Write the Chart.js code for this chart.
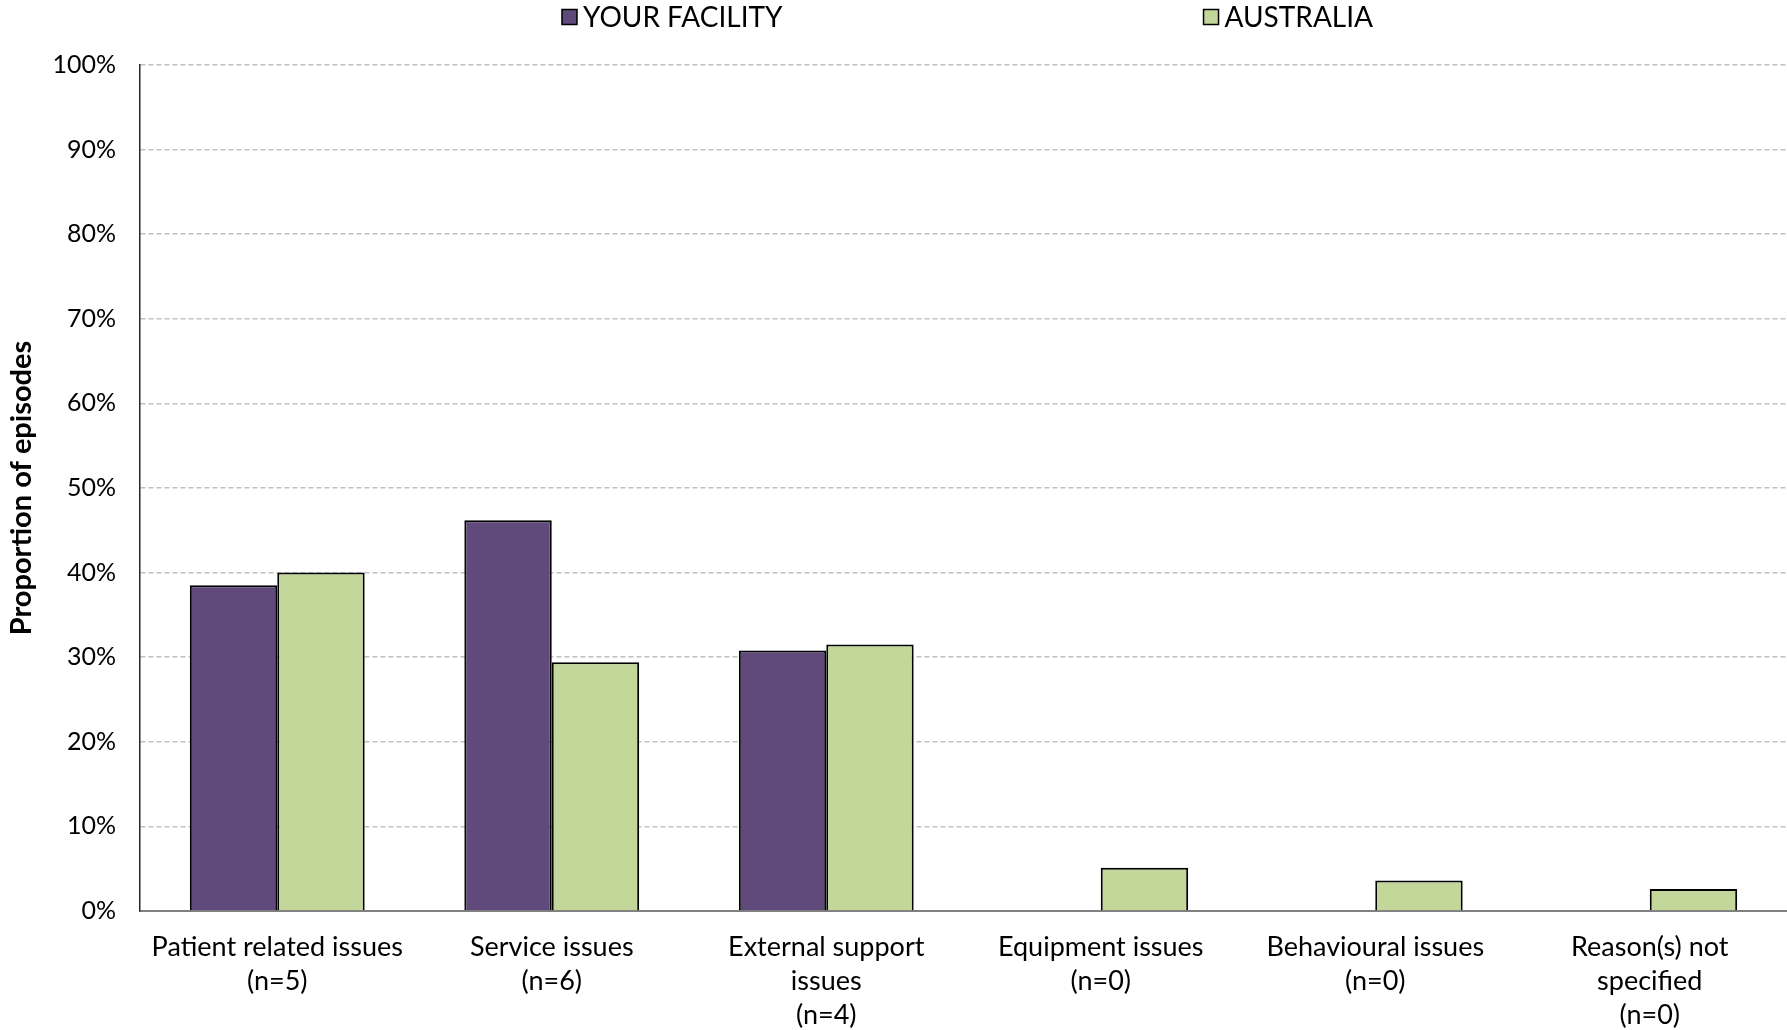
<!DOCTYPE html>
<html>
<head>
<meta charset="utf-8">
<script src="https://cdn.jsdelivr.net/npm/chart.js@4"></script>
<style>
  html, body { margin: 0; padding: 0; background: #fff; }
  #wrap { width: 1787px; height: 1030px; }
</style>
</head>
<body>
<div id="wrap"><canvas id="barChart" width="1787" height="1030"></canvas></div>
<script>
// Categories (multi-line x labels)
var categories = [
  ['Patient related issues', '(n=5)'],
  ['Service issues', '(n=6)'],
  ['External support', 'issues', '(n=4)'],
  ['Equipment issues', '(n=0)'],
  ['Behavioural issues', '(n=0)'],
  ['Reason(s) not', 'specified', '(n=0)']
];
var seriesNames = ['YOUR FACILITY', 'AUSTRALIA'];
// Proportion of episodes (%)
var facilityValues = [38.5, 46.2, 30.8, 0, 0, 0];
var australiaValues = [40.0, 29.4, 31.5, 5.1, 3.6, 2.6];
var yTicks = [0, 10, 20, 30, 40, 50, 60, 70, 80, 90, 100];

var FONT = 'Lato, "Noto Sans", sans-serif';

// Draws the legend centred over the plot area
var topLegend = {
  id: 'topLegend',
  afterDraw: function (chart) {
    let ctx = chart.ctx;
    let area = chart.chartArea;
    let box = 15, gap = 6, between = 421;
    ctx.save();
    ctx.font = '28px ' + FONT;
    let w0 = ctx.measureText(chart.data.datasets[0].label).width;
    let w1 = ctx.measureText(chart.data.datasets[1].label).width;
    let total = box + gap + w0 + between + box + gap + w1;
    let x = (area.left + area.right) / 2 + 4 - total / 2;
    let y = 17;
    chart.data.datasets.forEach(function (ds, i) {
      ctx.fillStyle = ds.backgroundColor;
      ctx.fillRect(x, y - box / 2, box, box);
      ctx.lineWidth = 1.5;
      ctx.strokeStyle = '#000';
      ctx.strokeRect(x, y - box / 2, box, box);
      ctx.fillStyle = '#000';
      ctx.textBaseline = 'middle';
      ctx.textAlign = 'left';
      ctx.fillText(ds.label, x + box + gap, y + 1);
      x += box + gap + (i === 0 ? w0 : w1) + between;
    });
    ctx.restore();
  }
};

var barCanvas = document.getElementById('barChart');
var chart = new Chart(barCanvas, {
  type: 'bar',
  data: {
    labels: categories,
    datasets: [{
      label: seriesNames[0],
      data: facilityValues,
      backgroundColor: '#604a7b',
      borderColor: '#000',
      borderWidth: function (c) { return c.raw === 0 ? 0 : 2; },
      categoryPercentage: 0.637,
      barPercentage: 1.0
    }, {
      label: seriesNames[1],
      data: australiaValues,
      backgroundColor: '#c4d79b',
      borderColor: '#000',
      borderWidth: function (c) { return c.raw === 0 ? 0 : 2; },
      categoryPercentage: 0.637,
      barPercentage: 1.0
    }]
  },
  options: {
    responsive: false,
    animation: false,
    layout: { padding: { top: 65, right: 0, left: 0, bottom: 0 } },
    plugins: {
      legend: { display: false },
      tooltip: { enabled: false }
    },
    scales: {
      x: {
        grid: { display: false },
        border: { display: true, color: '#808080', width: 2 },
        ticks: {
          color: '#000',
          font: { family: FONT, size: 27, lineHeight: 1.26 },
          maxRotation: 0,
          autoSkip: false,
          padding: 11
        },
        afterFit: function (s) { s.height = 119; }
      },
      y: {
        min: 0,
        max: 100,
        afterBuildTicks: function (s) {
          s.ticks = yTicks.map(function (v) { return { value: v }; });
        },
        grid: {
          drawTicks: false,
          color: function (c) { return c.tick && c.tick.value === 0 ? 'rgba(0,0,0,0)' : '#c0c0c0'; },
          lineWidth: 1.5
        },
        border: { display: true, color: '#262626', width: 1.5, dash: [5, 3] },
        ticks: {
          color: '#000',
          font: { family: FONT, size: 25 },
          padding: 24,
          callback: function (v) { return v + '%'; }
        },
        title: {
          display: true,
          text: 'Proportion of episodes',
          color: '#000',
          font: { family: FONT, size: 29, weight: 'bold' },
          padding: { top: 4, bottom: 0 }
        },
        afterFit: function (s) { s.width = 140; }
      }
    }
  },
  plugins: [topLegend]
});
</script>
</body>
</html>
